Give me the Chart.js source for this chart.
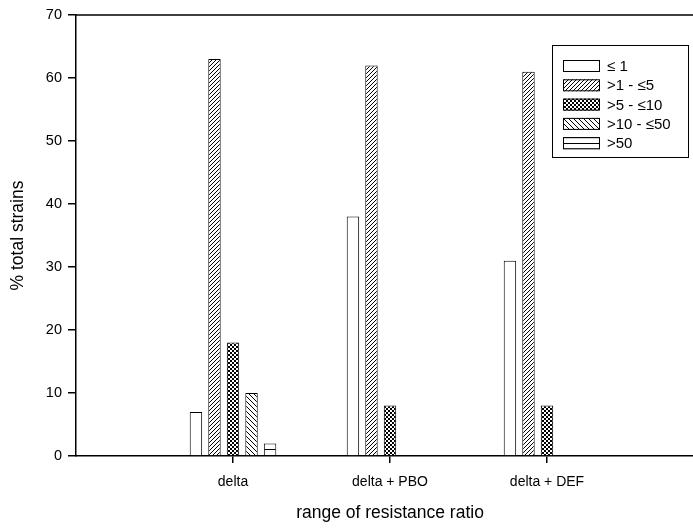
<!DOCTYPE html>
<html>
<head>
<meta charset="utf-8">
<script src="https://cdn.jsdelivr.net/npm/chart.js@4.4.0/dist/chart.umd.min.js"></script>
<style>
html, body { margin: 0; padding: 0; background: #fff; overflow: hidden; }
#wrap { position: relative; width: 720px; height: 529px; }
</style>
</head>
<body>
<div id="wrap"><canvas id="resistChart"></canvas></div>
<script>
// values (% of total strains)
const categories = ['delta', 'delta + PBO', 'delta + DEF'];
const seriesLabels = ['\u2264 1', '>1 - \u22645', '>5 - \u226410', '>10 - \u226450', '>50'];
const rrLe1 = [7, 38, 31];
const rr1to5 = [63, 62, 61];
const rr5to10 = [18, 8, 8];
const rr10to50 = [10, 0, 0];
const rrOver50 = [2, 0, 0];
const yTicks = [0, 10, 20, 30, 40, 50, 60, 70];

const FONT = "'Liberation Sans', Arial, sans-serif";

function makePattern(size, draw) {
    const c = document.createElement('canvas');
    c.width = size;
    c.height = size;
    const g = c.getContext('2d');
    g.fillStyle = '#fff';
    g.fillRect(0, 0, size, size);
    g.strokeStyle = '#000';
    g.fillStyle = '#000';
    draw(g, size);
    return g.createPattern(c, 'repeat');
}

const fills = [
    '#ffffff',
    // forward hatch
    makePattern(4, (g, s) => {
        g.lineWidth = 1;
        g.beginPath();
        g.moveTo(0, s); g.lineTo(s, 0);
        g.moveTo(-1, 1); g.lineTo(1, -1);
        g.moveTo(s - 1, s + 1); g.lineTo(s + 1, s - 1);
        g.stroke();
    }),
    // dense cross / checker
    makePattern(4, (g, s) => {
        g.fillRect(0, 0, s, s);
        g.fillStyle = '#fff';
        g.fillRect(0, 0, 2, 2);
        g.fillRect(2, 2, 2, 2);
    }),
    // back hatch
    makePattern(5, (g, s) => {
        g.lineWidth = 1;
        g.beginPath();
        g.moveTo(0, 0); g.lineTo(s, s);
        g.moveTo(s - 1, -1); g.lineTo(s + 1, 1);
        g.moveTo(-1, s - 1); g.lineTo(1, s + 1);
        g.stroke();
    }),
    // horizontal lines
    makePattern(6, (g, s) => {
        g.fillRect(0, s - 1, s, 1);
    }),
];

const seriesValues = [rrLe1, rr1to5, rr5to10, rr10to50, rrOver50];

const datasets = seriesValues.map((vals, i) => ({
    label: seriesLabels[i],
    data: vals.map((v, j) => ({ x: j + 1, y: v })),
    backgroundColor: fills[i],
    borderColor: '#000',
    borderWidth: 1,
    borderSkipped: 'bottom',
    barPercentage: 0.67,
    categoryPercentage: 0.59,
}));

const frameAndKey = {
    id: 'frameAndKey',
    afterDraw(chart) {
        const { ctx, chartArea } = chart;
        ctx.save();
        ctx.strokeStyle = '#000';
        ctx.lineWidth = 1.5;
        ctx.beginPath();
        ctx.moveTo(chartArea.left, chartArea.top);
        ctx.lineTo(chartArea.right, chartArea.top);
        ctx.stroke();

        // key box
        const bx = 552, by = 45, bw = 136, bh = 112;
        ctx.lineWidth = 1;
        ctx.strokeRect(bx + 0.5, by + 0.5, bw, bh);
        ctx.font = '15px ' + FONT;
        ctx.textBaseline = 'middle';
        ctx.fillStyle = '#000';
        chart.data.datasets.forEach((ds, i) => {
            const cy = 66 + i * 19.3;
            ctx.fillStyle = ds.backgroundColor;
            ctx.fillRect(563, cy - 6, 37, 12);
            ctx.strokeRect(563.5, cy - 5.5, 36, 11);
            ctx.fillStyle = '#000';
            ctx.fillText(ds.label, 607, cy + 1);
        });
        ctx.restore();
    },
};

const ctx = document.getElementById('resistChart').getContext('2d');
const resistChart = new Chart(ctx, {
    type: 'bar',
    data: { datasets: datasets },
    options: {
        responsive: true,
        maintainAspectRatio: false,
        animation: false,
        layout: { padding: { top: 15, right: 16, bottom: 0, left: 0 } },
        plugins: {
            legend: { display: false },
            tooltip: { enabled: false },
        },
        scales: {
            x: {
                type: 'linear',
                min: 0,
                max: 4,
                offset: false,
                afterBuildTicks: (scale) => {
                    scale.ticks = categories.map((c, i) => ({ value: i + 1 }));
                },
                afterFit: (scale) => { scale.height = 73; },
                ticks: {
                    color: '#000',
                    font: { family: FONT, size: 14 },
                    padding: 11,
                    maxRotation: 0,
                    autoSkip: false,
                    callback: (v) => categories[v - 1],
                },
                grid: {
                    display: true,
                    offset: false,
                    drawOnChartArea: false,
                    drawTicks: true,
                    tickLength: 7,
                    color: '#000',
                    lineWidth: 1.5,
                },
                border: { display: true, color: '#000', width: 1.5 },
                title: {
                    display: true,
                    text: 'range of resistance ratio',
                    color: '#000',
                    font: { family: FONT, size: 17.5 },
                    padding: { top: 0, bottom: 5 },
                },
            },
            y: {
                min: 0,
                max: 70,
                afterBuildTicks: (scale) => {
                    scale.ticks = yTicks.map(v => ({ value: v }));
                },
                afterFit: (scale) => { scale.width = 76; },
                ticks: {
                    color: '#000',
                    font: { family: FONT, size: 14.5 },
                    padding: 6,
                },
                grid: {
                    display: true,
                    drawOnChartArea: false,
                    drawTicks: true,
                    tickLength: 8,
                    color: '#000',
                    lineWidth: 1.5,
                },
                border: { display: true, color: '#000', width: 1.5 },
                title: {
                    display: true,
                    text: '% total strains',
                    color: '#000',
                    font: { family: FONT, size: 17.5 },
                    padding: { top: 8, bottom: 0 },
                },
            },
        },
    },
    plugins: [frameAndKey],
});
</script>
</body>
</html>
